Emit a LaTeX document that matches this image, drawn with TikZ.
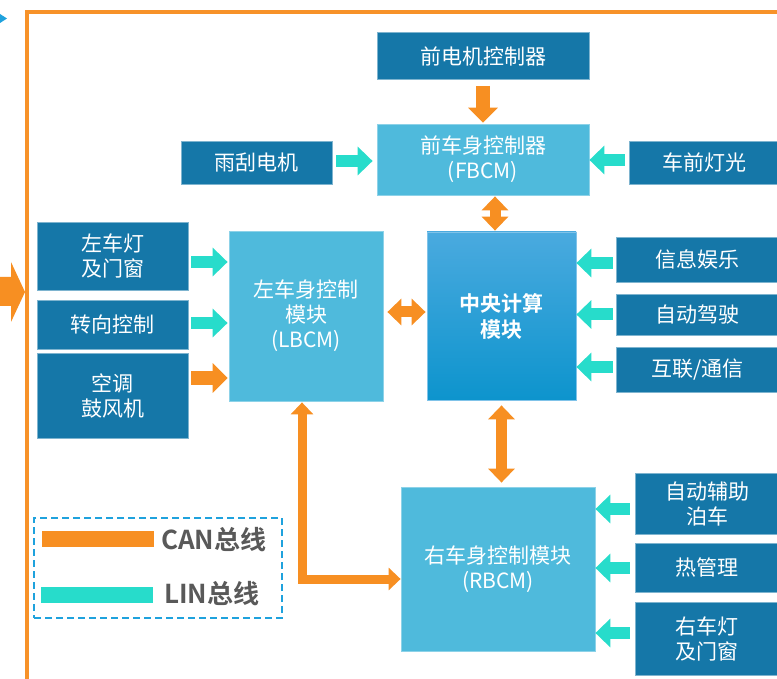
\documentclass[tikz,border=0pt]{standalone}
\usepackage{fontspec}
\setmainfont{Noto Sans CJK SC}[BoldFont={Noto Sans CJK SC Bold}]
\usetikzlibrary{arrows.meta,calc}
\definecolor{darkbox}{HTML}{1577A8}
\definecolor{lightbox}{HTML}{4FBADC}
\definecolor{tealc}{HTML}{27DCCB}
\definecolor{orangec}{HTML}{F78F22}
\definecolor{framec}{HTML}{F79229}
\definecolor{legendc}{HTML}{1FA2DD}
\definecolor{grayt}{HTML}{595959}
\definecolor{ctop}{HTML}{4AAADF}
\definecolor{cbot}{HTML}{0D94CD}
\begin{document}
\begin{tikzpicture}[x=1pt,y=-1pt,
  box/.style={inner sep=0pt, align=center, text=white, font=\fontsize{21}{25}\selectfont},
  darkb/.style={box, fill=darkbox, draw=darkbox!55!white, line width=0.8pt},
  lightb/.style={box, fill=lightbox, draw=lightbox!65!white, line width=0.8pt},
  linarr/.style={draw=tealc, line width=12pt, -{Triangle[length=15pt,width=28pt]}},
  canarr/.style={draw=orangec, line width=14pt, -{Triangle[length=15pt,width=29pt]}},
  candbl/.style={draw=orangec, line width=11pt, {Triangle[length=14pt,width=26pt]}-{Triangle[length=14pt,width=26pt]}},
  canlbl/.style={draw=orangec, line width=9pt, line join=miter, {Triangle[length=12pt,width=22pt]}-{Triangle[length=12pt,width=22pt]}},
  legtext/.style={anchor=west, inner sep=0pt, text=grayt, font=\bfseries\fontsize{26}{26}\selectfont}
]
\clip (0,0) rectangle (777,679);
\fill[white] (0,0) rectangle (777,679);

% frame
\draw[framec, line width=4pt, line join=miter] (27,700) -- (27,12) -- (800,12);
\fill[legendc] (0,14) -- (7,18.5) -- (0,23) -- cycle;
\fill[orangec] (-5,277) -- (11,277) -- (11,262) -- (25,292) -- (11,322) -- (11,306) -- (-5,306) -- cycle;

% top
\node[darkb, minimum width=212pt, minimum height=47pt] (fm) at (483,56) {前电机控制器};
\node[lightb, minimum width=212pt, minimum height=71pt] (fbcm) at (483,159.5) {前车身控制器\\(FBCM)};
\node[darkb, minimum width=151pt, minimum height=43pt] (wiper) at (256.5,162.5) {雨刮电机};
\node[darkb, minimum width=152pt, minimum height=43pt] (flight) at (705,162.5) {\hspace*{-2pt}车前灯光};

% center
\node[box, font=\bfseries\fontsize{21}{26}\selectfont, top color=ctop, bottom color=cbot, draw=ctop!70!white, line width=0.8pt, minimum width=149pt, minimum height=168pt] (center) at (501.5,316) {中央计算\\模块};
\node[darkb, minimum width=163pt, minimum height=45pt] (info) at (697.5,259.5) {信息娱乐};
\node[darkb, minimum width=163pt, minimum height=41pt] (drive) at (697.5,314.5) {自动驾驶};
\node[darkb, minimum width=163pt, minimum height=45pt] (comm) at (697.5,369.5) {互联/通信};

% left
\node[darkb, minimum width=151pt, minimum height=68pt] (llight) at (112.5,256) {左车灯\\及门窗};
\node[darkb, minimum width=151pt, minimum height=49pt] (turn) at (112.5,324.5) {转向控制};
\node[darkb, minimum width=151pt, minimum height=85pt] (ac) at (112.5,395.5) {空调\\鼓风机};
\node[lightb, minimum width=154pt, minimum height=170pt] (lbcm) at (306,316) {左车身控制\\模块\\(LBCM)};

% bottom right
\node[lightb, minimum width=194pt, minimum height=164pt] (rbcm) at (498,569) {右车身控制模块\\(RBCM)};
\node[darkb, minimum width=144pt, minimum height=61pt] (park) at (707,503.5) {自动辅助\\泊车};
\node[darkb, minimum width=144pt, minimum height=49pt] (therm) at (707,567.5) {热管理};
\node[darkb, minimum width=144pt, minimum height=73pt] (rlight) at (707,638.5) {右车灯\\及门窗};

% connectors
\draw[canarr] ($(fm.south)+(0,6)$) -- ($(fbcm.north)+(0,-1)$);
\draw[linarr] ($(wiper.east)+(4,-1.5)$) -- ($(fbcm.west |- wiper.east)+(-4,-1.5)$);
\draw[linarr] ($(flight.west)+(-4,-2.5)$) -- ($(fbcm.east |- flight.west)+(0,-2.5)$);
\draw[candbl] ($(fbcm.south)+(12,1)$) -- ($(center.north)+(-6.5,-1)$);
\draw[linarr] ($(info.west)+(-3,3.5)$) -- ($(center.east |- info.west)+(0,3.5)$);
\draw[linarr] ($(drive.west)+(-3,0)$) -- ($(center.east |- drive.west)+(0,0)$);
\draw[linarr] ($(comm.west)+(-3,-2.5)$) -- ($(center.east |- comm.west)+(0,-2.5)$);
\draw[linarr] ($(llight.east)+(3,6)$) -- ($(lbcm.west |- llight.east)+(-1,6)$);
\draw[linarr] ($(turn.east)+(3,-1.5)$) -- ($(lbcm.west |- turn.east)+(-1,-1.5)$);
\draw[canarr] ($(ac.east)+(3,-17.5)$) -- ($(lbcm.west |- ac.east)+(-1,-17.5)$);
\draw[candbl] ($(lbcm.east)+(4,-4)$) -- ($(center.west |- lbcm.east)+(-1,-4)$);
\draw[candbl] ($(center.south)+(0,5)$) -- ($(center.south |- rbcm.north)+(0,-4)$);
\draw[canlbl] ($(lbcm.south)+(-4,1)$) |- ($(rbcm.west)+(0,10)$);
\draw[linarr] ($(park.west)+(-5,5.5)$) -- ($(rbcm.east |- park.west)+(0,5.5)$);
\draw[linarr] ($(therm.west)+(-5,0.5)$) -- ($(rbcm.east |- therm.west)+(0,0.5)$);
\draw[linarr] ($(rlight.west)+(-5,-5.5)$) -- ($(rbcm.east |- rlight.west)+(0,-5.5)$);

% legend
\node[draw=legendc, line width=2pt, dash pattern=on 7pt off 4pt, minimum width=248pt, minimum height=100pt, inner sep=0pt] (legend) at (158,568) {};
\coordinate (canA) at (42,539);
\coordinate (canB) at (154,539);
\coordinate (linA) at (41,595);
\coordinate (linB) at (153,595);
\draw[orangec, line width=16pt] (canA) -- (canB);
\draw[tealc, line width=16pt] (linA) -- (linB);
\node[legtext] (cantext) at (161,540) {CAN总线};
\node[legtext] (lintext) at (164,594) {LIN总线};
\end{tikzpicture}
\end{document}
